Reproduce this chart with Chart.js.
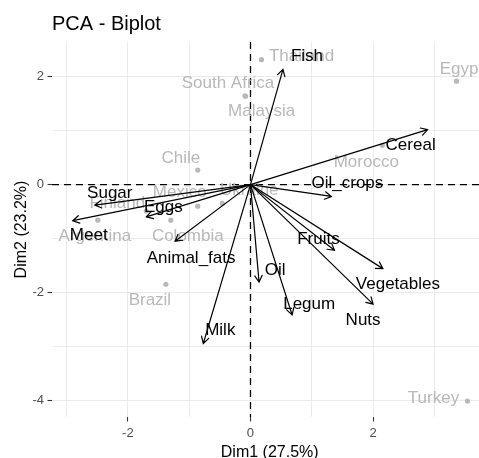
<!DOCTYPE html>
<html>
<head>
<meta charset="utf-8">
<script src="https://cdn.jsdelivr.net/npm/chart.js@4.4.1/dist/chart.umd.min.js"></script>
<style>
  html, body { margin: 0; padding: 0; background: #ffffff; overflow: hidden; }
  /* the plotting panel runs past the right edge of the visible frame */
  #wrap { width: 479px; height: 458px; overflow: hidden; position: relative; }
  #biplot { display: block; }
</style>
</head>
<body>
<div id="wrap"><canvas id="biplot" width="490" height="458"></canvas></div>
<script>
// Individuals (countries) on the first two principal dimensions
const countries = ['Thailand', 'South Africa', 'Malaysia', 'Egypt', 'Morocco', 'Chile', 'Mexico',
                   'Ukraine', 'Finland', 'Argentina', 'Colombia', 'Brazil', 'Turkey'];
const dim1Ind = [0.18, -0.09, -0.08, 3.36, 2.15, -0.86, -0.86, -0.46, -1.70, -2.49, -1.30, -1.38, 3.54];
const dim2Ind = [2.32, 1.65, 1.64, 1.92, 0.73, 0.27, -0.40, -0.35, -0.49, -0.66, -0.66, -1.85, -4.02];

// Variables (food groups) as loading arrows
const variables = ['Fish', 'Cereal', 'Oil_crops', 'Fruits', 'Vegetables', 'Nuts', 'Legum',
                   'Oil', 'Milk', 'Animal_fats', 'Meet', 'Sugar', 'Eggs'];
const dim1Var = [0.53, 2.89, 1.32, 1.37, 2.16, 2.00, 0.68, 0.14, -0.77, -1.23, -2.90, -2.54, -1.70];
const dim2Var = [2.14, 1.02, -0.22, -1.22, -1.56, -2.22, -2.42, -1.81, -2.95, -1.05, -0.67, -0.38, -0.60];

// Labelled tick values
const xTickLabels = [-2, 0, 2];
const yTickLabels = [-4, -2, 0, 2];

// Text label placement relative to each mark (pixels), repelled to avoid overlaps
const indLabelShift = [[40, -3], [-17, -12], [16, 15], [5, -12], [-16, 17], [-17, -12], [-18, -14],
                       [27, -13], [-29, -8], [-3, 16], [17, 16], [-16, 16], [-34, -3]];
const varLabelShift = [[24, -13], [-17, 16], [16, -13], [-16, -11], [15, 16], [-10, 16], [17, -11],
                       [16, -12], [17, -13], [16, 17], [16, 15], [15, -12], [17, -10]];

const FONT = '"Liberation Sans", Arial, Helvetica, sans-serif';
const IND_GREY = '#b8b8b8';

const isLabelled = (list, v) => Math.abs(v - Math.round(v)) < 1e-6 && list.includes(Math.round(v));

const biplotLayers = {
  id: 'biplotLayers',
  beforeDatasetsDraw(chart) {
    const { ctx, chartArea: a, scales: { x, y } } = chart;
    const x0 = x.getPixelForValue(0);
    const y0 = y.getPixelForValue(0);
    ctx.save();
    ctx.strokeStyle = '#000000';
    ctx.lineWidth = 1.3;
    ctx.setLineDash([7, 5]);
    ctx.beginPath();
    ctx.moveTo(a.left, y0); ctx.lineTo(a.right, y0);
    ctx.moveTo(x0, a.top); ctx.lineTo(x0, a.bottom);
    ctx.stroke();
    ctx.restore();
  },
  afterDatasetsDraw(chart) {
    const { ctx, scales: { x, y } } = chart;
    const x0 = x.getPixelForValue(0);
    const y0 = y.getPixelForValue(0);
    ctx.save();
    ctx.font = '17px ' + FONT;
    ctx.textAlign = 'center';
    ctx.textBaseline = 'middle';

    // country names
    const ind = chart.getDatasetMeta(0).data;
    ctx.fillStyle = IND_GREY;
    ind.forEach((pt, i) => {
      ctx.fillText(countries[i], pt.x + indLabelShift[i][0], pt.y + indLabelShift[i][1]);
    });

    // loading arrows
    const vars = chart.getDatasetMeta(1).data;
    ctx.strokeStyle = '#000000';
    ctx.lineWidth = 1.2;
    ctx.lineCap = 'round';
    const headLen = 7.5, headAng = Math.PI / 6;
    vars.forEach((pt) => {
      const ang = Math.atan2(pt.y - y0, pt.x - x0);
      ctx.beginPath();
      ctx.moveTo(x0, y0);
      ctx.lineTo(pt.x, pt.y);
      ctx.moveTo(pt.x - headLen * Math.cos(ang - headAng), pt.y - headLen * Math.sin(ang - headAng));
      ctx.lineTo(pt.x, pt.y);
      ctx.lineTo(pt.x - headLen * Math.cos(ang + headAng), pt.y - headLen * Math.sin(ang + headAng));
      ctx.stroke();
    });

    // variable names
    ctx.fillStyle = '#000000';
    vars.forEach((pt, i) => {
      ctx.fillText(variables[i], pt.x + varLabelShift[i][0], pt.y + varLabelShift[i][1]);
    });
    ctx.restore();
  }
};

new Chart(document.getElementById('biplot'), {
  type: 'scatter',
  data: {
    datasets: [
      {
        label: 'Individuals',
        data: countries.map((c, i) => ({ x: dim1Ind[i], y: dim2Ind[i] })),
        pointRadius: 2.6,
        pointHoverRadius: 2.6,
        pointBackgroundColor: IND_GREY,
        pointBorderWidth: 0
      },
      {
        label: 'Variables',
        data: variables.map((v, i) => ({ x: dim1Var[i], y: dim2Var[i] })),
        pointRadius: 0,
        pointHoverRadius: 0
      }
    ]
  },
  options: {
    responsive: false,
    animation: false,
    devicePixelRatio: 1,
    events: [],
    layout: { padding: 0 },
    plugins: {
      legend: { display: false },
      tooltip: { enabled: false },
      title: {
        display: true,
        text: 'PCA - Biplot',
        align: 'start',
        fullSize: false,
        color: '#000000',
        font: { family: FONT, size: 20, weight: 'normal', lineHeight: 1.2 },
        padding: { top: 12, bottom: 6 }
      }
    },
    scales: {
      x: {
        type: 'linear',
        min: -3.238,
        max: 3.865,
        afterFit(scale) { scale.height = 41; },
        border: { display: false },
        grid: {
          color: '#ebebeb',
          lineWidth: 1,
          tickLength: 4.5,
          tickWidth: 1.1,
          tickColor: (c) => isLabelled(xTickLabels, c.tick.value) ? '#333333' : 'rgba(0,0,0,0)'
        },
        ticks: {
          stepSize: 1,
          includeBounds: false,
          autoSkip: false,
          maxRotation: 0,
          padding: 4,
          color: '#4d4d4d',
          font: { family: FONT, size: 13 },
          callback: (v) => isLabelled(xTickLabels, v) ? String(Math.round(v)) : ''
        },
        title: {
          display: true,
          text: 'Dim1 (27.5%)',
          color: '#000000',
          font: { family: FONT, size: 16, lineHeight: 1 },
          padding: { top: 0, bottom: -3 }
        }
      },
      y: {
        type: 'linear',
        min: -4.315,
        max: 2.648,
        afterFit(scale) { scale.width = 52; },
        border: { display: false },
        grid: {
          color: '#ebebeb',
          lineWidth: 1,
          tickLength: 4.5,
          tickWidth: 1.1,
          tickColor: (c) => isLabelled(yTickLabels, c.tick.value) ? '#333333' : 'rgba(0,0,0,0)'
        },
        ticks: {
          stepSize: 1,
          includeBounds: false,
          autoSkip: false,
          padding: 3.5,
          color: '#4d4d4d',
          font: { family: FONT, size: 13 },
          callback: (v) => isLabelled(yTickLabels, v) ? String(Math.round(v)) : ''
        },
        title: {
          display: true,
          text: 'Dim2 (23.2%)',
          color: '#000000',
          font: { family: FONT, size: 16, lineHeight: 1.2 },
          padding: { top: 12, bottom: 0 }
        }
      }
    }
  },
  plugins: [biplotLayers]
});
</script>
</body>
</html>
